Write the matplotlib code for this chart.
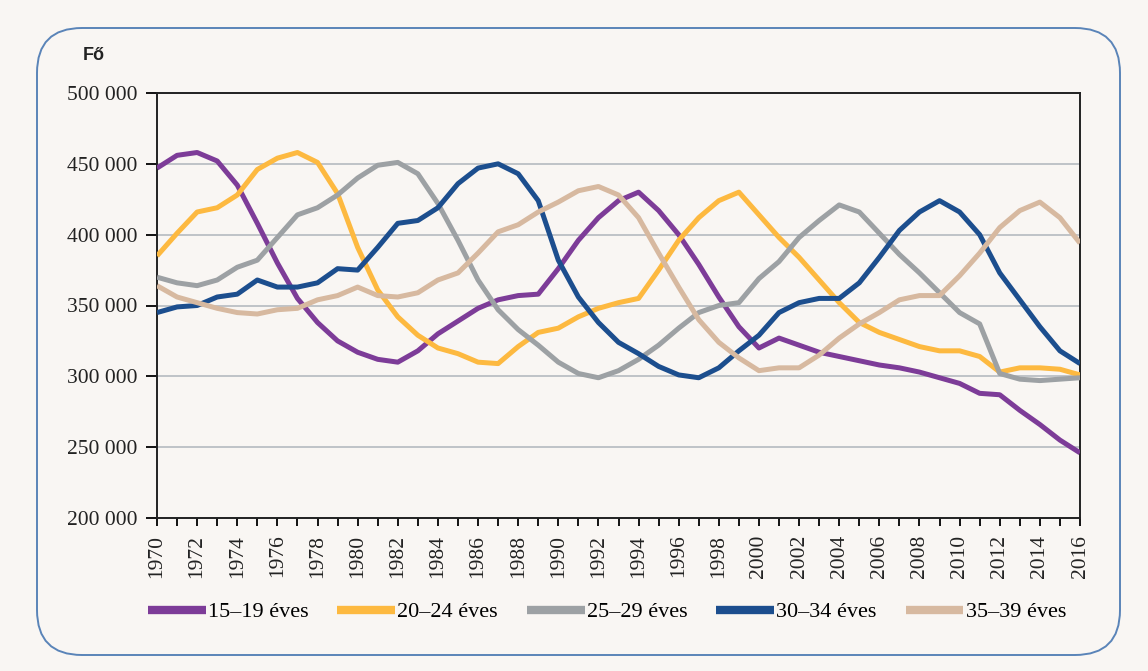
import numpy as np
import matplotlib.pyplot as plt
from matplotlib.patches import FancyBboxPatch
from matplotlib.ticker import FuncFormatter, MultipleLocator

years = np.arange(1970, 2017)

age_15_19 = [447000, 456000, 458000, 452000, 435000, 408000, 380000, 355000, 338000, 325000,
             317000, 312000, 310000, 318000, 330000, 339000, 348000, 354000, 357000, 358000,
             376000, 396000, 412000, 424000, 430000, 417000, 400000, 379000, 356000, 335000,
             320000, 327000, 322000, 317000, 314000, 311000, 308000, 306000, 303000, 299000,
             295000, 288000, 287000, 276000, 266000, 255000, 246000]
age_20_24 = [385000, 401000, 416000, 419000, 428000, 446000, 454000, 458000, 451000, 429000,
             391000, 361000, 342000, 329000, 320000, 316000, 310000, 309000, 321000, 331000,
             334000, 342000, 348000, 352000, 355000, 375000, 396000, 412000, 424000, 430000,
             414000, 398000, 384000, 368000, 352000, 338000, 331000, 326000, 321000, 318000,
             318000, 314000, 303000, 306000, 306000, 305000, 301000]
age_25_29 = [370000, 366000, 364000, 368000, 377000, 382000, 398000, 414000, 419000, 428000,
             440000, 449000, 451000, 443000, 422000, 396000, 368000, 347000, 333000, 322000,
             310000, 302000, 299000, 304000, 312000, 322000, 334000, 345000, 350000, 352000,
             369000, 381000, 398000, 410000, 421000, 416000, 401000, 386000, 373000, 359000,
             345000, 337000, 302000, 298000, 297000, 298000, 299000]
age_30_34 = [345000, 349000, 350000, 356000, 358000, 368000, 363000, 363000, 366000, 376000,
             375000, 391000, 408000, 410000, 419000, 436000, 447000, 450000, 443000, 424000,
             382000, 356000, 338000, 324000, 316000, 307000, 301000, 299000, 306000, 318000,
             329000, 345000, 352000, 355000, 355000, 366000, 384000, 403000, 416000, 424000,
             416000, 400000, 373000, 354000, 335000, 318000, 309000]
age_35_39 = [364000, 356000, 352000, 348000, 345000, 344000, 347000, 348000, 354000, 357000,
             363000, 357000, 356000, 359000, 368000, 373000, 387000, 402000, 407000, 416000,
             423000, 431000, 434000, 428000, 412000, 387000, 363000, 340000, 324000, 313000,
             304000, 306000, 306000, 315000, 327000, 337000, 345000, 354000, 357000, 357000,
             371000, 387000, 405000, 417000, 423000, 412000, 394000]

series = [
    ("15\u201319 éves", age_15_19, "#7d3c98"),
    ("20\u201324 éves", age_20_24, "#fdb940"),
    ("25\u201329 éves", age_25_29, "#9da1a4"),
    ("30\u201334 éves", age_30_34, "#1c4e8e"),
    ("35\u201339 éves", age_35_39, "#d7b9a0"),
]

bg = "#f9f6f3"
serif = ["Liberation Serif", "DejaVu Serif"]

fig = plt.figure(figsize=(11.48, 6.71), dpi=100, facecolor=bg)
ax = fig.add_axes([157 / 1148, 1 - 518 / 671, (1080 - 157) / 1148, (518 - 93) / 671])
ax.set_facecolor(bg)

# rounded frame around the chart
frame = FancyBboxPatch((0.37, 0.16), 10.83, 6.27, boxstyle="round,pad=0,rounding_size=0.45",
                       transform=fig.dpi_scale_trans, facecolor="none", edgecolor="#5a84b8",
                       linewidth=1.4, zorder=0)
fig.patches.append(frame)

for label, vals, col in series:
    ax.plot(years, vals, color=col, linewidth=3.6, label=label,
            solid_joinstyle="round", solid_capstyle="butt", zorder=3)

ax.set_xlim(1970, 2016)
ax.set_ylim(200000, 500000)
ax.yaxis.set_major_locator(MultipleLocator(50000))
ax.yaxis.set_major_formatter(FuncFormatter(lambda v, p: f"{int(v):,}".replace(",", " ")))
ax.set_xticks(years)
ax.set_xticklabels([str(y) if y % 2 == 0 else "" for y in years], rotation=90)

for lbl in ax.get_xticklabels() + ax.get_yticklabels():
    lbl.set_family(serif)
    lbl.set_fontsize(15.5)
    lbl.set_color("#222222")

ax.tick_params(axis="y", direction="out", length=8, width=1.3, pad=6)
ax.tick_params(axis="x", direction="out", length=6, width=1.3, pad=6)
ax.grid(axis="y", color="#bfc3c7", linewidth=1.4, zorder=1)
ax.set_axisbelow(True)
for sp in ax.spines.values():
    sp.set_linewidth(1.4)
    sp.set_color("#222222")

fig.text(83 / 1148, 1 - 56 / 671, "Fő", fontsize=13, fontweight="bold",
         family=["Liberation Sans", "DejaVu Sans"], color="#222222", va="center")

leg = ax.legend(loc="center", bbox_to_anchor=(607 / 1148, 1 - 612 / 671),
                bbox_transform=fig.transFigure, ncol=5, frameon=False,
                handlelength=2.6, handletextpad=0.1, columnspacing=1.3,
                prop={"family": serif, "size": 16})
for line in leg.get_lines():
    line.set_linewidth(6)

fig.savefig("out.png", dpi=100, facecolor=bg)
